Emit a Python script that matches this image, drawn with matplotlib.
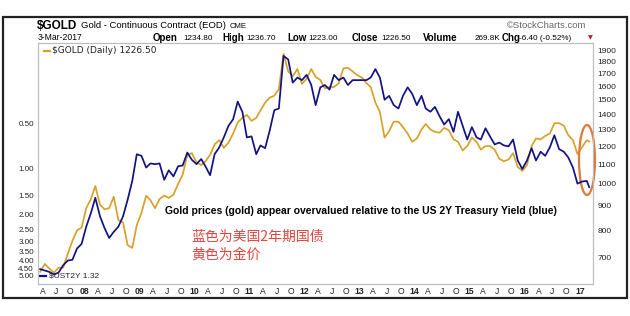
import matplotlib
matplotlib.use("Agg")
import matplotlib.pyplot as plt
from matplotlib.patches import Ellipse, Rectangle
from matplotlib.ticker import FixedLocator, NullLocator
import pandas as pd

W, H = 630, 316

# monthly values, Mar 2007 .. Feb 2017, plus the last close on 3-Mar-2017
gold = [
    655, 680, 665, 652, 668, 668, 715, 760, 800, 810,
    890, 930, 990, 905, 885, 890, 940, 840, 830, 745, 735, 820,
    870, 945, 925, 890, 930, 945, 935, 950, 1000, 1045, 1150, 1160,
    1110, 1095, 1115, 1150, 1210, 1235, 1190, 1220, 1275, 1345, 1375, 1395,
    1355, 1375, 1425, 1480, 1515, 1530, 1580, 1870, 1720, 1680, 1740, 1620,
    1660, 1740, 1675, 1650, 1585, 1595, 1595, 1625, 1745, 1750, 1720, 1690,
    1670, 1625, 1595, 1480, 1415, 1250, 1290, 1350, 1350, 1315, 1275, 1225,
    1245, 1300, 1335, 1300, 1285, 1280, 1310, 1295, 1240, 1225, 1175, 1200,
    1250, 1225, 1180, 1200, 1200, 1180, 1130, 1115, 1125, 1160, 1085, 1065,
    1095, 1200, 1245, 1240, 1260, 1275, 1340, 1340, 1325, 1265, 1235, 1155,
    1195, 1235, 1226.5,
]
ust2y = [
    4.57, 4.67, 4.77, 4.96, 4.82, 4.31, 4.01, 3.97, 3.34, 3.12,
    2.40, 1.95, 1.55, 2.05, 2.45, 2.85, 2.60, 2.40, 2.05, 1.60, 1.20, 0.80,
    0.82, 0.98, 0.92, 0.93, 0.92, 1.18, 1.02, 1.12, 0.96, 0.95, 0.78, 0.87,
    0.93, 0.86, 0.96, 1.10, 0.80, 0.72, 0.62, 0.52, 0.47, 0.36, 0.42, 0.62,
    0.61, 0.80, 0.70, 0.73, 0.56, 0.41, 0.40, 0.18, 0.19, 0.27, 0.25, 0.26,
    0.24, 0.28, 0.38, 0.29, 0.28, 0.30, 0.24, 0.26, 0.25, 0.28, 0.26, 0.26,
    0.26, 0.26, 0.25, 0.22, 0.25, 0.35, 0.33, 0.38, 0.40, 0.33, 0.29, 0.32,
    0.38, 0.33, 0.40, 0.42, 0.39, 0.45, 0.51, 0.47, 0.57, 0.42, 0.52, 0.64,
    0.53, 0.62, 0.64, 0.54, 0.61, 0.69, 0.67, 0.70, 0.71, 0.64, 0.88, 1.00,
    0.88, 0.73, 0.88, 0.77, 0.82, 0.72, 0.60, 0.74, 0.77, 0.84, 0.98, 1.25,
    1.21, 1.20, 1.32,
]
dates = list(pd.date_range("2007-03-01", periods=120, freq="MS") + pd.Timedelta(days=14))
dates.append(pd.Timestamp("2017-03-03"))

yield_ticks = [0.5, 1.0, 1.5, 2.0, 2.5, 3.0, 3.5, 4.0, 4.5, 5.0]
gold_ticks = [700, 800, 900, 1000, 1100, 1200, 1300, 1400, 1500, 1600, 1700, 1800, 1900]
month_letters = ["A", "J", "O"]
year_labels = ["08", "09", "10", "11", "12", "13", "14", "15", "16", "17"]

GOLD_C = "#d6a22a"
BLUE_C = "#121283"
FONT = ["Liberation Sans", "DejaVu Sans"]
plt.rcParams["font.family"] = FONT


def fx(x):
    return x / W


def fy(y):
    return 1 - y / H


fig = plt.figure(figsize=(W / 100, H / 100), dpi=100)
fig.patch.set_facecolor("white")

# outer frame
fig.patches.append(Rectangle((fx(3), fy(298)), fx(624), (298 - 17) / H,
                             transform=fig.transFigure, fill=False,
                             edgecolor="#222222", lw=1.6))

l, t, r, b = 38, 43, 593, 284
ax = fig.add_axes([fx(l), fy(b), (r - l) / W, (b - t) / H])
ax2 = ax.twinx()
ax.set_zorder(ax2.get_zorder() + 1)
ax.patch.set_visible(False)

ax2.plot(dates, gold, color=GOLD_C, lw=1.25)
ax.plot(dates, ust2y, color=BLUE_C, lw=1.25)

ax.set_yscale("log")
ax.set_ylim(5.73, 0.148)
ax.yaxis.set_major_locator(FixedLocator(yield_ticks))
ax.yaxis.set_minor_locator(NullLocator())
ax.set_yticklabels([f"{v:.2f}" for v in yield_ticks])

ax2.set_yscale("log")
ax2.set_ylim(617.5, 1972)
ax2.yaxis.set_major_locator(FixedLocator(gold_ticks))
ax2.yaxis.set_minor_locator(NullLocator())
ax2.set_yticklabels([str(v) for v in gold_ticks])

ax.set_xlim(pd.Timestamp("2007-03-01"), pd.Timestamp("2017-03-28"))
tick_dates, tick_text = [], []
for i, yr in enumerate(range(2007, 2017)):
    for m, letter in zip([4, 7, 10], month_letters):
        tick_dates.append(pd.Timestamp(year=yr, month=m, day=1))
        tick_text.append(letter)
    tick_dates.append(pd.Timestamp(year=yr + 1, month=1, day=1))
    tick_text.append(year_labels[i])
ax.set_xticks(tick_dates)
ax.set_xticklabels(tick_text)
for lab in ax.get_xticklabels():
    if lab.get_text().isdigit():
        lab.set_fontweight("bold")

for a in (ax, ax2):
    for s in a.spines.values():
        s.set_color("#bdbdbd")
        s.set_linewidth(0.8)
    a.tick_params(axis="both", length=0, labelsize=6.2, colors="#222222")
ax.tick_params(axis="y", pad=3, labelsize=5.8)
ax2.tick_params(axis="y", pad=3, labelsize=6.0)
ax.tick_params(axis="x", pad=2.5)

# legends inside the panel
ax.plot([0.011, 0.022], [0.967, 0.967], transform=ax.transAxes, color=GOLD_C, lw=1.6)
ax.text(0.026, 0.967, "$GOLD (Daily) 1226.50", transform=ax.transAxes,
        fontsize=6.5, family="DejaVu Sans", va="center", color="#222222")
ax.plot([0.004, 0.015], [0.033, 0.033], transform=ax.transAxes, color=BLUE_C, lw=1.6)
ax.text(0.019, 0.033, "$UST2Y 1.32", transform=ax.transAxes,
        fontsize=6.0, va="center", color="#222222")

# header
fig.text(fx(37), fy(26), "$GOLD", fontsize=8.5, fontweight="bold", va="center")
fig.text(fx(81), fy(26), "Gold - Continuous Contract (EOD)", fontsize=6.8, va="center")
fig.text(fx(230), fy(26.5), "CME", fontsize=5.6, va="center")
fig.text(fx(507), fy(26), "\u00a9StockCharts.com", fontsize=6.8, va="center", color="#666666")
fig.text(fx(38), fy(38), "3-Mar-2017", fontsize=6.2, va="center")

header = [
    (153, "Open", True), (183, "1234.80", False),
    (222, "High", True), (246, "1236.70", False),
    (287, "Low", True), (308, "1223.00", False),
    (352, "Close", True), (381, "1226.50", False),
    (423, "Volume", True), (475, "269.8K", False),
    (502, "Chg", True), (519, "-6.40 (-0.52%)", False),
]
for x, s, bold in header:
    fig.text(fx(x), fy(38), s, fontsize=7.0 if bold else 5.9,
             fontweight="bold" if bold else "normal", va="center")
fig.text(fx(588), fy(38), "\u25bc", fontsize=4.5, va="center", color="#b02020",
         family="DejaVu Sans")

# annotations
fig.text(fx(165), fy(211), "Gold prices (gold) appear overvalued relative to the US 2Y Treasury Yield (blue)",
         fontsize=7.5, fontweight="bold", va="center",
         family=["Liberation Sans Narrow", "Liberation Sans"])
cjk = ["Noto Sans CJK SC", "DejaVu Sans"]
fig.text(fx(191), fy(237), "蓝色为美国2年期国债", fontsize=10, color="#e2443c",
         va="center", family=cjk)
fig.text(fx(191), fy(255), "黄色为金价", fontsize=10, color="#e2443c",
         va="center", family=cjk)

# highlight of the last months
ax.add_patch(Ellipse(((587 - l) / (r - l), 1 - (160 - t) / (b - t)),
                     16 / (r - l), 70 / (b - t), transform=ax.transAxes,
                     fill=False, edgecolor="#dd7a3c", lw=1.6, clip_on=False))

fig.savefig("out.png", dpi=100, facecolor="white")
